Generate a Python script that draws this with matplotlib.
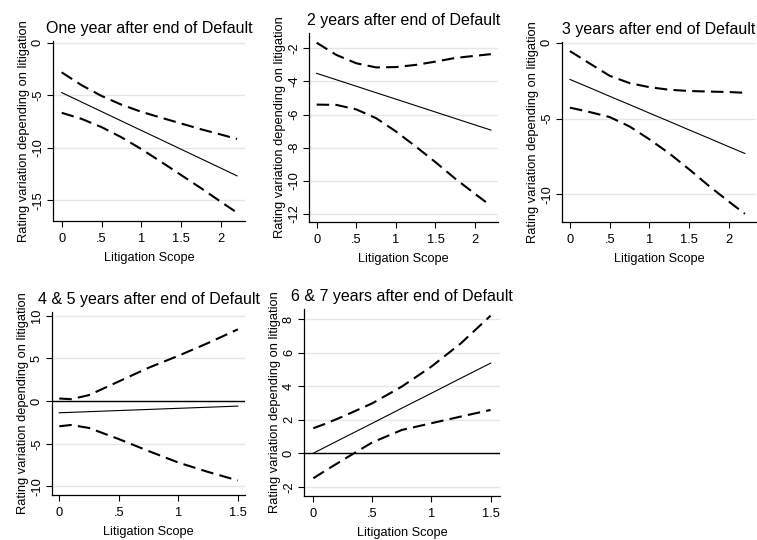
import matplotlib
matplotlib.use("Agg")
import matplotlib.pyplot as plt

plt.rcParams['font.family'] = ['Liberation Sans', 'DejaVu Sans']

W, H = 757, 540

# --- data ---
x_long = [0, 0.25, 0.5, 0.75, 1.0, 1.25, 1.5, 1.75, 2.0, 2.2]
x_short = [0, 0.1, 0.25, 0.5, 0.75, 1.0, 1.25, 1.5]

# one year
p1_up = [-2.83, -4.05, -5.07, -5.9, -6.58, -7.14, -7.69, -8.24, -8.74, -9.16]
p1_mean = [-4.75, -5.65, -6.55, -7.45, -8.35, -9.24, -10.14, -11.04, -11.94, -12.66]
p1_lo = [-6.67, -7.25, -8.03, -9.0, -10.12, -11.34, -12.59, -13.84, -15.14, -16.16]

# 2 years
p2_up = [-1.66, -2.4, -2.9, -3.15, -3.13, -3.0, -2.8, -2.58, -2.45, -2.35]
p2_mean = [-3.51, -3.9, -4.29, -4.68, -5.07, -5.46, -5.85, -6.24, -6.63, -6.94]
p2_lo = [-5.4, -5.42, -5.69, -6.22, -7.02, -7.93, -8.88, -9.88, -10.8, -11.52]

# 3 years
p3_up = [-0.55, -1.37, -2.18, -2.66, -2.93, -3.1, -3.18, -3.22, -3.25, -3.3]
p3_mean = [-2.42, -2.97, -3.53, -4.08, -4.64, -5.19, -5.75, -6.30, -6.86, -7.3]
p3_lo = [-4.28, -4.57, -4.9, -5.52, -6.37, -7.3, -8.35, -9.45, -10.48, -11.28]

# 4 & 5 years
p4_up = [0.3, 0.22, 0.7, 2.3, 3.9, 5.3, 6.8, 8.4]
p4_mean = [-1.37, -1.32, -1.24, -1.11, -0.98, -0.85, -0.72, -0.59]
p4_lo = [-2.95, -2.8, -3.15, -4.45, -5.85, -7.2, -8.3, -9.3]

# 6 & 7 years
p5_up = [1.49, 1.75, 2.19, 2.98, 3.98, 5.17, 6.56, 8.2]
p5_mean = [0.0, 0.36, 0.9, 1.79, 2.69, 3.58, 4.48, 5.37]
p5_lo = [-1.49, -1.05, -0.4, 0.65, 1.39, 1.79, 2.19, 2.58]

titles = ["One year after end of Default", "2 years after end of Default",
          "3 years after end of Default", "4 & 5 years after end of Default",
          "6 & 7 years after end of Default"]
xticks_long = [0, 0.5, 1, 1.5, 2]
xlabels_long = ["0", ".5", "1", "1.5", "2"]
xticks_short = [0, 0.5, 1, 1.5]
xlabels_short = ["0", ".5", "1", "1.5"]

panels = [
    # box = (left, right, top, bottom) in pixels
    dict(box=(53, 245, 41, 221), xlim=(-0.109, 2.30), ylim=(-16.95, 0.15),
         yt=[0, -5, -10, -15], x=x_long, up=p1_up, mean=p1_mean, lo=p1_lo, zero=False),
    dict(box=(309, 498, 33, 222), xlim=(-0.097, 2.29), ylim=(-12.5, -1.07),
         yt=[-2, -4, -6, -8, -10, -12], x=x_long, up=p2_up, mean=p2_mean, lo=p2_lo, zero=False),
    dict(box=(562, 756, 42, 222), xlim=(-0.1, 2.34), ylim=(-11.82, 0.05),
         yt=[0, -5, -10], x=x_long, up=p3_up, mean=p3_mean, lo=p3_lo, zero=False),
    dict(box=(52, 245, 312, 495), xlim=(-0.061, 1.56), ylim=(-11.0, 10.43),
         yt=[10, 5, 0, -5, -10], x=x_short, up=p4_up, mean=p4_mean, lo=p4_lo, zero=True),
    dict(box=(304, 500, 309, 496), xlim=(-0.079, 1.58), ylim=(-2.55, 8.6),
         yt=[8, 6, 4, 2, 0, -2], x=x_short, up=p5_up, mean=p5_mean, lo=p5_lo, zero=True),
]

fig = plt.figure(figsize=(W / 100, H / 100), dpi=100)

for i, p in enumerate(panels):
    l, r, t, b = p['box']
    ax = fig.add_axes([l / W, 1 - b / H, (r - l) / W, (b - t) / H])
    ax.set_xlim(p['xlim'])
    ax.set_ylim(p['ylim'])
    for v in p['yt']:
        ax.axhline(v, color='#e6e6e6', lw=1.0, zorder=0)
    if p['zero']:
        ax.axhline(0, color='black', lw=1.0, zorder=1)
    ax.plot(p['x'], p['up'], color='black', lw=1.5, dashes=(6, 3), zorder=3)
    ax.plot(p['x'], p['lo'], color='black', lw=1.5, dashes=(6, 3), zorder=3)
    ax.plot(p['x'], p['mean'], color='black', lw=0.8, zorder=3)

    if len(p['x']) > 8:
        ax.set_xticks(xticks_long)
        ax.set_xticklabels(xlabels_long)
    else:
        ax.set_xticks(xticks_short)
        ax.set_xticklabels(xlabels_short)
    ax.set_yticks(p['yt'])
    ax.set_yticklabels([str(v) for v in p['yt']], rotation=90, va='center')
    ax.tick_params(labelsize=9.3, length=4.5, width=0.8, direction='out')
    ax.tick_params(axis='x', pad=4.3)
    ax.tick_params(axis='y', pad=2)
    for s in ['top', 'right']:
        ax.spines[s].set_visible(False)
    for s in ['left', 'bottom']:
        ax.spines[s].set_linewidth(0.9)
    ax.set_title(titles[i], fontsize=11.5, pad=6)
    ax.set_xlabel("Litigation Scope", fontsize=9.2, labelpad=5)
    ax.set_ylabel("Rating variation depending on litigation", fontsize=9.3, labelpad=1.5)

fig.savefig("out.png", dpi=100)
